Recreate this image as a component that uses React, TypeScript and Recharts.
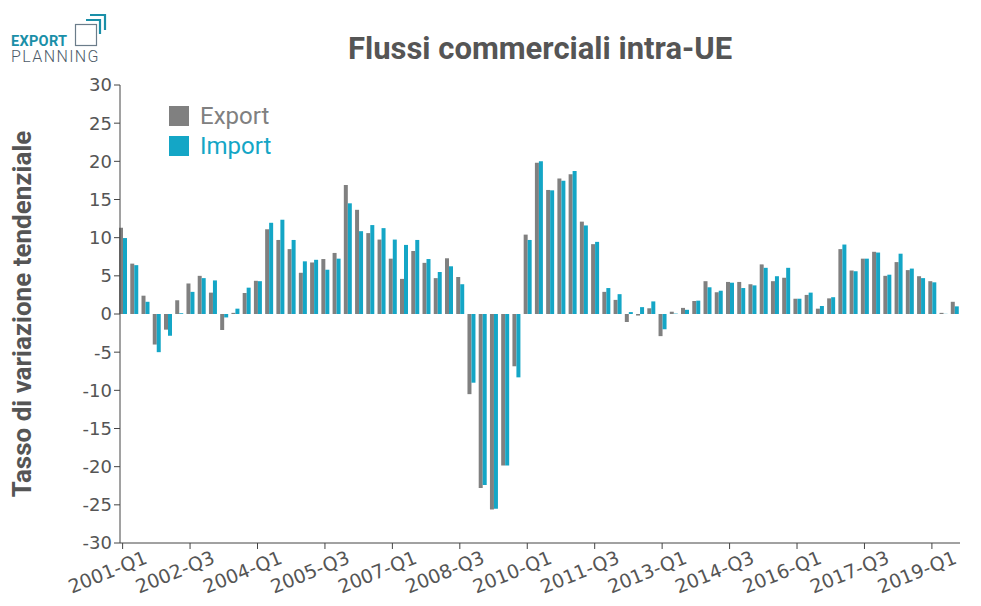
import { BarChart, Bar, XAxis, YAxis } from "recharts";

const years = [2001, 2002, 2003, 2004, 2005, 2006, 2007, 2008, 2009, 2010, 2011, 2012, 2013, 2014, 2015, 2016, 2017, 2018, 2019];
const quarterNames = ["Q1", "Q2", "Q3", "Q4"];
const quarters = years
  .flatMap((y) => quarterNames.map((q) => `${y}-${q}`))
  .slice(0, 75);

const exportVals = [
  11.3, 6.6, 2.4, -4.0, -2.05, 1.8, 4.0, 5.0, 2.8, -2.1,
  0.15, 2.75, 4.35, 11.1, 9.7, 8.5, 5.4, 6.75, 7.2, 8.0,
  16.9, 13.65, 10.6, 9.75, 7.25, 4.6, 8.25, 6.7, 4.7, 7.3,
  4.85, -10.5, -22.8, -25.6, -19.85, -6.85, 10.4, 19.8, 16.25, 17.75,
  18.3, 12.1, 9.15, 2.9, 1.85, -1.05, -0.2, 0.75, -2.9, 0.3,
  0.8, 1.7, 4.3, 2.85, 4.2, 4.2, 3.9, 6.5, 4.3, 4.75,
  2.0, 2.5, 0.7, 2.05, 8.5, 5.7, 7.25, 8.15, 5.0, 6.8,
  5.75, 4.95, 4.3, 0.15, 1.6,
];

const importVals = [
  9.95, 6.4, 1.6, -5.0, -2.85, 0.1, 2.9, 4.7, 4.4, -0.45,
  0.7, 3.45, 4.3, 11.95, 12.35, 9.7, 6.9, 7.1, 5.8, 7.25,
  14.5, 10.85, 11.65, 11.25, 9.75, 9.05, 9.7, 7.2, 5.5, 6.25,
  3.9, -9.0, -22.4, -25.5, -19.85, -8.3, 9.7, 20.0, 16.2, 17.45,
  18.75, 11.6, 9.45, 3.4, 2.6, 0.25, 0.9, 1.65, -2.0, 0.05,
  0.55, 1.75, 3.5, 3.05, 4.1, 3.4, 3.75, 6.05, 4.95, 6.05,
  2.0, 2.8, 1.05, 2.2, 9.1, 5.6, 7.25, 8.05, 5.15, 7.9,
  5.95, 4.7, 4.15, 0.02, 1.0,
];

const yTicks = [-30, -25, -20, -15, -10, -5, 0, 5, 10, 15, 20, 25, 30];

const EXPORT_COLOR = "#808080";
const IMPORT_COLOR = "#14a6c6";
const TEXT_COLOR = "#555555";

const data = quarters.map((q, i) => ({
  q,
  Export: exportVals[i],
  Import: importVals[i],
}));

function XTick(props: any) {
  const { x, y, payload } = props;
  return (
    <g transform={`translate(${x - 15},${y + 21}) rotate(-22)`}>
      <text
        textAnchor="middle"
        dy="0.35em"
        fill={TEXT_COLOR}
        fontSize={19}
        fontFamily="DejaVu Sans"
      >
        {payload.value}
      </text>
    </g>
  );
}

const legendItems = [
  { name: "Export", color: EXPORT_COLOR },
  { name: "Import", color: IMPORT_COLOR },
];

export default function App() {
  return (
    <div
      style={{
        position: "absolute",
        left: 0,
        top: 0,
        width: 981,
        height: 606,
        background: "#fff",
      }}
    >
      {/* logo */}
      <svg
        width={120}
        height={70}
        style={{ position: "absolute", left: 0, top: 0 }}
      >
        <rect x={75.5} y={24.5} width={21} height={21} fill="none" stroke="#6b7c8a" strokeWidth={1.2} />
        <polyline points="86,20 100,20 100,34" fill="none" stroke="#1a8fa8" strokeWidth={2.2} />
        <polyline points="90,15 105,15 105,30" fill="none" stroke="#1a8fa8" strokeWidth={2.2} />
        <text x={11} y={46} fontFamily="Roboto" fontWeight="bold" fontSize={14.5} fill="#1a8fa8" letterSpacing={0.3}>
          EXPORT
        </text>
        <text x={11} y={62} fontFamily="Roboto" fontWeight={300} fontSize={16} fill="#4d5b68" letterSpacing={1.4}>
          PLANNING
        </text>
      </svg>

      <div
        style={{
          position: "absolute",
          left: 120,
          width: 840,
          top: 31,
          textAlign: "center",
          fontFamily: "Roboto",
          fontWeight: "bold",
          fontSize: 31,
          lineHeight: "36px",
          color: TEXT_COLOR,
        }}
      >
        Flussi commerciali intra-UE
      </div>

      <div
        style={{
          position: "absolute",
          left: 22,
          top: 314,
          transform: "translate(-50%, -50%) rotate(-90deg)",
          whiteSpace: "nowrap",
          fontFamily: "Roboto",
          fontWeight: "bold",
          fontSize: 26,
          color: TEXT_COLOR,
        }}
      >
        Tasso di variazione tendenziale
      </div>

      <div style={{ position: "absolute", left: 169, top: 101 }}>
        {legendItems.map((it) => (
          <div
            key={it.name}
            style={{ display: "flex", alignItems: "center", height: 30 }}
          >
            <span
              style={{
                width: 20,
                height: 20,
                background: it.color,
                marginRight: 11,
                display: "inline-block",
              }}
            />
            <span
              style={{
                color: it.color,
                fontFamily: "Roboto",
                fontSize: 24,
                lineHeight: "30px",
              }}
            >
              {it.name}
            </span>
          </div>
        ))}
      </div>

      <div style={{ position: "absolute", left: 0, top: 0 }}>
        <BarChart
          width={981}
          height={606}
          data={data}
          margin={{ top: 85, right: 21, bottom: 13, left: 60 }}
          barGap={0}
          barCategoryGap="18%"
        >
          <XAxis
            dataKey="q"
            interval={5}
            height={50}
            tick={<XTick />}
            tickLine={{ stroke: "#444" }}
            axisLine={{ stroke: "#444" }}
            tickSize={6}
            padding={{ left: -3, right: 0 }}
          />
          <YAxis
            width={60}
            domain={[-30, 30]}
            ticks={yTicks}
            interval={0}
            tick={{ fill: TEXT_COLOR, fontSize: 18, fontFamily: "DejaVu Sans" }}
            tickLine={{ stroke: "#444" }}
            axisLine={{ stroke: "#444" }}
            tickSize={6}
          />
          <Bar dataKey="Export" fill={EXPORT_COLOR} isAnimationActive={false} />
          <Bar dataKey="Import" fill={IMPORT_COLOR} isAnimationActive={false} />
        </BarChart>
      </div>
    </div>
  );
}
